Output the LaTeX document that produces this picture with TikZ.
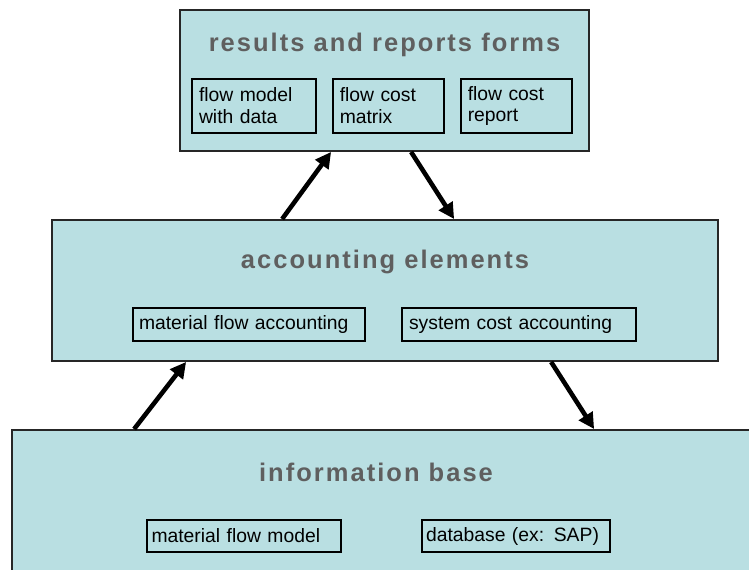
\documentclass[tikz,border=0pt]{standalone}
\usepackage{fontspec}
\setmainfont{Liberation Sans}
\newfontfamily\headfont{Liberation Sans}[LetterSpace=8]
\usepackage{tikz}
\usetikzlibrary{calc,arrows.meta}

\definecolor{panelblue}{RGB}{185,223,226}
\definecolor{headgray}{RGB}{95,95,95}

\tikzset{
  panel/.style={draw=black!85,line width=1.1pt,fill=panelblue,inner sep=0pt},
  heading/.style={text=headgray,font=\headfont\bfseries\fontsize{14.5}{16}\selectfont},
  item/.style={draw,line width=0.8pt,inner sep=2pt,align=left,
    font=\fontsize{11}{12.5}\selectfont},
  flow/.style={line width=2.6pt,-{Triangle[length=9pt,width=9pt]}}
}

\begin{document}
\begin{tikzpicture}[x=0.02cm,y=-0.02cm]
  \clip (0,0) rectangle (749,570);
  % three levels
  \node[panel,minimum width=8.18cm,minimum height=2.82cm] (results) at (384.5,80.5) {};
  \node[panel,minimum width=13.32cm,minimum height=2.82cm] (accounting) at (385,290.5) {};
  \node[panel,minimum width=15.36cm,minimum height=2.9cm] (base) at (396,502.5) {};
  \node[heading] (resultsT) at (384.5,45) {results and reports forms};
  \node[heading] (accountingT) at (385,262) {accounting elements};
  \node[heading] (baseT) at (376,472) {information base};
  % results and reports forms
  \node[item,minimum width=2.48cm,minimum height=1.08cm,text width=2.2cm] (model) at (254,106) {flow model\\with data};
  \node[item,minimum width=2.22cm,minimum height=1.08cm,text width=1.95cm] (matrix) at (388.5,106) {flow cost\\matrix};
  \node[item,minimum width=2.22cm,minimum height=1.08cm,text width=1.95cm] (report) at (516.5,106) {flow cost\\report};
  % accounting elements
  \node[item,minimum width=4.64cm,minimum height=0.66cm,text width=4.4cm] (mfa) at (249,324.5) {material flow accounting};
  \node[item,minimum width=4.68cm,minimum height=0.66cm,text width=4.4cm] (sca) at (519,324.5) {system cost accounting};
  % information base
  \node[item,minimum width=3.88cm,minimum height=0.64cm,text width=3.7cm] (mfm) at (244,536) {material flow model};
  \node[item,minimum width=3.76cm,minimum height=0.64cm,text width=3.6cm] (db) at (516,536) {database (ex: SAP)};
  % arrows
  \draw[flow] ($(accounting.north west)+(231,0)$) -- ($(results.south west)+(152,0)$);
  \draw[flow] ($(results.south west)+(232,0)$) -- ($(accounting.north west)+(403,0)$);
  \draw[flow] ($(base.north west)+(123,0)$) -- ($(accounting.south west)+(135,0)$);
  \draw[flow] ($(accounting.south west)+(500,0)$) -- ($(base.north west)+(583,0)$);
\end{tikzpicture}
\end{document}
